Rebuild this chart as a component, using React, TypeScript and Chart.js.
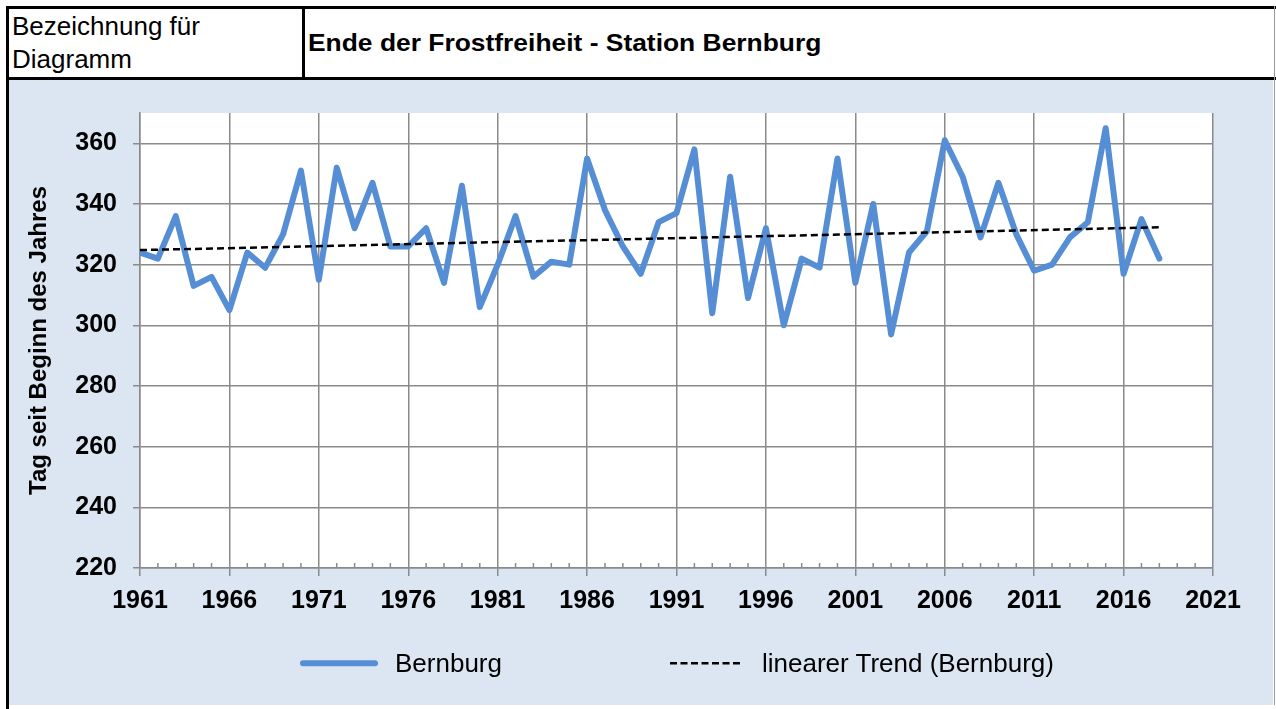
import React, { useEffect, useRef } from "react";
import { Chart, registerables } from "chart.js";

Chart.register(...registerables);

const years = [
  1961, 1962, 1963, 1964, 1965, 1966, 1967, 1968, 1969, 1970,
  1971, 1972, 1973, 1974, 1975, 1976, 1977, 1978, 1979, 1980,
  1981, 1982, 1983, 1984, 1985, 1986, 1987, 1988, 1989, 1990,
  1991, 1992, 1993, 1994, 1995, 1996, 1997, 1998, 1999, 2000,
  2001, 2002, 2003, 2004, 2005, 2006, 2007, 2008, 2009, 2010,
  2011, 2012, 2013, 2014, 2015, 2016, 2017, 2018,
];

const frostEnd = [
  324, 322, 336, 313, 316, 305, 324, 319, 330, 351,
  315, 352, 332, 347, 326, 326, 332, 314, 346, 306,
  320, 336, 316, 321, 320, 355, 338, 326, 317, 334,
  337, 358, 304, 349, 309, 332, 300, 322, 319, 355,
  314, 340, 297, 324, 331, 361, 349, 329, 347, 330,
  318, 320, 329, 334, 365, 317, 335, 322,
];

const trendYears = [1961, 2018];
const trendValues = [324.8, 332.3];

const xTickValues = [1961, 1966, 1971, 1976, 1981, 1986, 1991, 1996, 2001, 2006, 2011, 2016, 2021];
const yTickValues = [220, 240, 260, 280, 300, 320, 340, 360];

const seriesLabel = "Bernburg";
const trendLabel = "linearer Trend (Bernburg)";
const yAxisTitle = "Tag seit Beginn des Jahres";
const headerLabelLines = ["Bezeichnung für", "Diagramm"];
const chartTitle = "Ende der Frostfreiheit - Station Bernburg";

const FONT = '"Liberation Sans", Arial, Helvetica, sans-serif';
const GRID = "#8a8a8a";
const BLUE = "#558ed5";
const PANEL = "#dce6f2";

const decorPlugin = {
  id: "decor",
  beforeDraw(chart: any) {
    const { ctx, chartArea: a } = chart;
    ctx.save();
    ctx.fillStyle = "#ffffff";
    ctx.fillRect(a.left, a.top, a.right - a.left, a.bottom - a.top);
    ctx.restore();
  },
  beforeDatasetsDraw(chart: any) {
    const { ctx, chartArea: a } = chart;
    const xs = chart.scales.x;
    ctx.save();
    ctx.strokeStyle = GRID;
    ctx.lineWidth = 1.5;
    for (let v = xs.min; v <= xs.max; v++) {
      if (xTickValues.includes(v)) continue;
      const px = xs.getPixelForValue(v);
      ctx.beginPath();
      ctx.moveTo(px, a.bottom);
      ctx.lineTo(px, a.bottom - 5);
      ctx.stroke();
    }
    ctx.restore();
  },
};

function ChartCanvas() {
  const ref = useRef<HTMLCanvasElement | null>(null);
  useEffect(() => {
    if (!ref.current) return;
    Chart.defaults.font.family = FONT;
    const chart = new Chart(ref.current, {
      type: "line",
      data: {
        datasets: [
          {
            label: seriesLabel,
            data: years.map((yr, i) => ({ x: yr, y: frostEnd[i] })),
            borderColor: BLUE,
            backgroundColor: BLUE,
            borderWidth: 6,
            pointRadius: 0,
            tension: 0,
            borderJoinStyle: "round",
            borderCapStyle: "round",
            fill: false,
            order: 2,
          },
          {
            label: trendLabel,
            data: trendYears.map((yr, i) => ({ x: yr, y: trendValues[i] })),
            borderColor: "#000000",
            backgroundColor: "#000000",
            borderWidth: 2.5,
            borderDash: [7, 4],
            pointRadius: 0,
            tension: 0,
            fill: false,
            order: 1,
          },
        ],
      },
      options: {
        responsive: false,
        animation: false,
        devicePixelRatio: 1,
        events: [],
        layout: { padding: { top: 33, right: 60, left: 0, bottom: 0 } },
        plugins: {
          legend: { display: false },
          tooltip: { enabled: false },
        },
        scales: {
          x: {
            type: "linear",
            min: 1961,
            max: 2021,
            afterBuildTicks: (s: any) => {
              s.ticks = xTickValues.map((v) => ({ value: v }));
            },
            afterFit: (s: any) => {
              s.height = 137;
            },
            ticks: {
              autoSkip: false,
              maxRotation: 0,
              minRotation: 0,
              padding: 10,
              color: "#000000",
              font: { size: 25, weight: "bold", family: FONT },
              callback: (v: any) => String(v),
            },
            grid: { color: GRID, lineWidth: 1.5, tickLength: 8, tickColor: GRID, drawTicks: true },
            border: { color: GRID, width: 1.5 },
          },
          y: {
            type: "linear",
            min: 220,
            max: 370,
            afterBuildTicks: (s: any) => {
              s.ticks = yTickValues.map((v) => ({ value: v }));
            },
            afterFit: (s: any) => {
              s.width = 131;
            },
            ticks: {
              padding: 16,
              color: "#000000",
              font: { size: 25, weight: "bold", family: FONT },
              callback: (v: any) => String(v),
            },
            grid: { color: GRID, lineWidth: 1.5, tickLength: 7, tickColor: GRID, drawTicks: true },
            border: { color: GRID, width: 1.5 },
            title: {
              display: true,
              text: yAxisTitle,
              color: "#000000",
              font: { size: 24, weight: "bold", family: FONT },
              padding: { top: 16, bottom: 0 },
            },
          },
        },
      } as any,
      plugins: [decorPlugin],
    });
    return () => chart.destroy();
  }, []);
  return (
    <canvas
      ref={ref}
      width={1264}
      height={625}
      style={{ position: "absolute", left: 9, top: 80, width: 1264, height: 625, display: "block" }}
    />
  );
}

export default function App() {
  const abs = (s: React.CSSProperties): React.CSSProperties => ({ position: "absolute", ...s });
  return (
    <div style={abs({ left: 0, top: 0, width: 1276, height: 709, background: "#ffffff", overflow: "hidden", fontFamily: FONT })}>
      {/* blue panel */}
      <div style={abs({ left: 9, top: 80, width: 1264, height: 625, background: PANEL })} />
      {/* borders */}
      <div style={abs({ left: 6, top: 6, width: 1270, height: 3, background: "#000" })} />
      <div style={abs({ left: 6, top: 6, width: 3, height: 703, background: "#000" })} />
      <div style={abs({ left: 6, top: 77, width: 1270, height: 3, background: "#000" })} />
      <div style={abs({ left: 302, top: 9, width: 3, height: 68, background: "#000" })} />
      <div style={abs({ left: 1274, top: 6, width: 1, height: 699, background: "#9a9a9a" })} />
      {/* header texts */}
      <div style={abs({ left: 12, top: 10, fontSize: 26, lineHeight: "33.4px", color: "#000", whiteSpace: "nowrap" })}>
        {headerLabelLines.map((l, i) => (
          <div key={i}>{l}</div>
        ))}
      </div>
      <div
        style={abs({
          left: 308,
          top: 28,
          fontSize: 24,
          lineHeight: "30px",
          fontWeight: "bold",
          color: "#000",
          whiteSpace: "nowrap",
          transform: "scaleX(1.1)",
          transformOrigin: "0 0",
        })}
      >
        {chartTitle}
      </div>
      <ChartCanvas />
      {/* legend */}
      <svg style={abs({ left: 0, top: 640, width: 1276, height: 50 })} width={1276} height={50}>
        <line x1={303} y1={23.3} x2={375} y2={23.3} stroke={BLUE} strokeWidth={6} strokeLinecap="round" />
        <line x1={670} y1={23.3} x2={740} y2={23.3} stroke="#000" strokeWidth={2.5} strokeDasharray="7 3.5" />
      </svg>
      <div style={abs({ left: 395, top: 648, fontSize: 26, lineHeight: "30px", color: "#000", whiteSpace: "nowrap" })}>
        {seriesLabel}
      </div>
      <div style={abs({ left: 762, top: 648, fontSize: 26, lineHeight: "30px", color: "#000", whiteSpace: "nowrap" })}>
        {trendLabel}
      </div>
    </div>
  );
}
